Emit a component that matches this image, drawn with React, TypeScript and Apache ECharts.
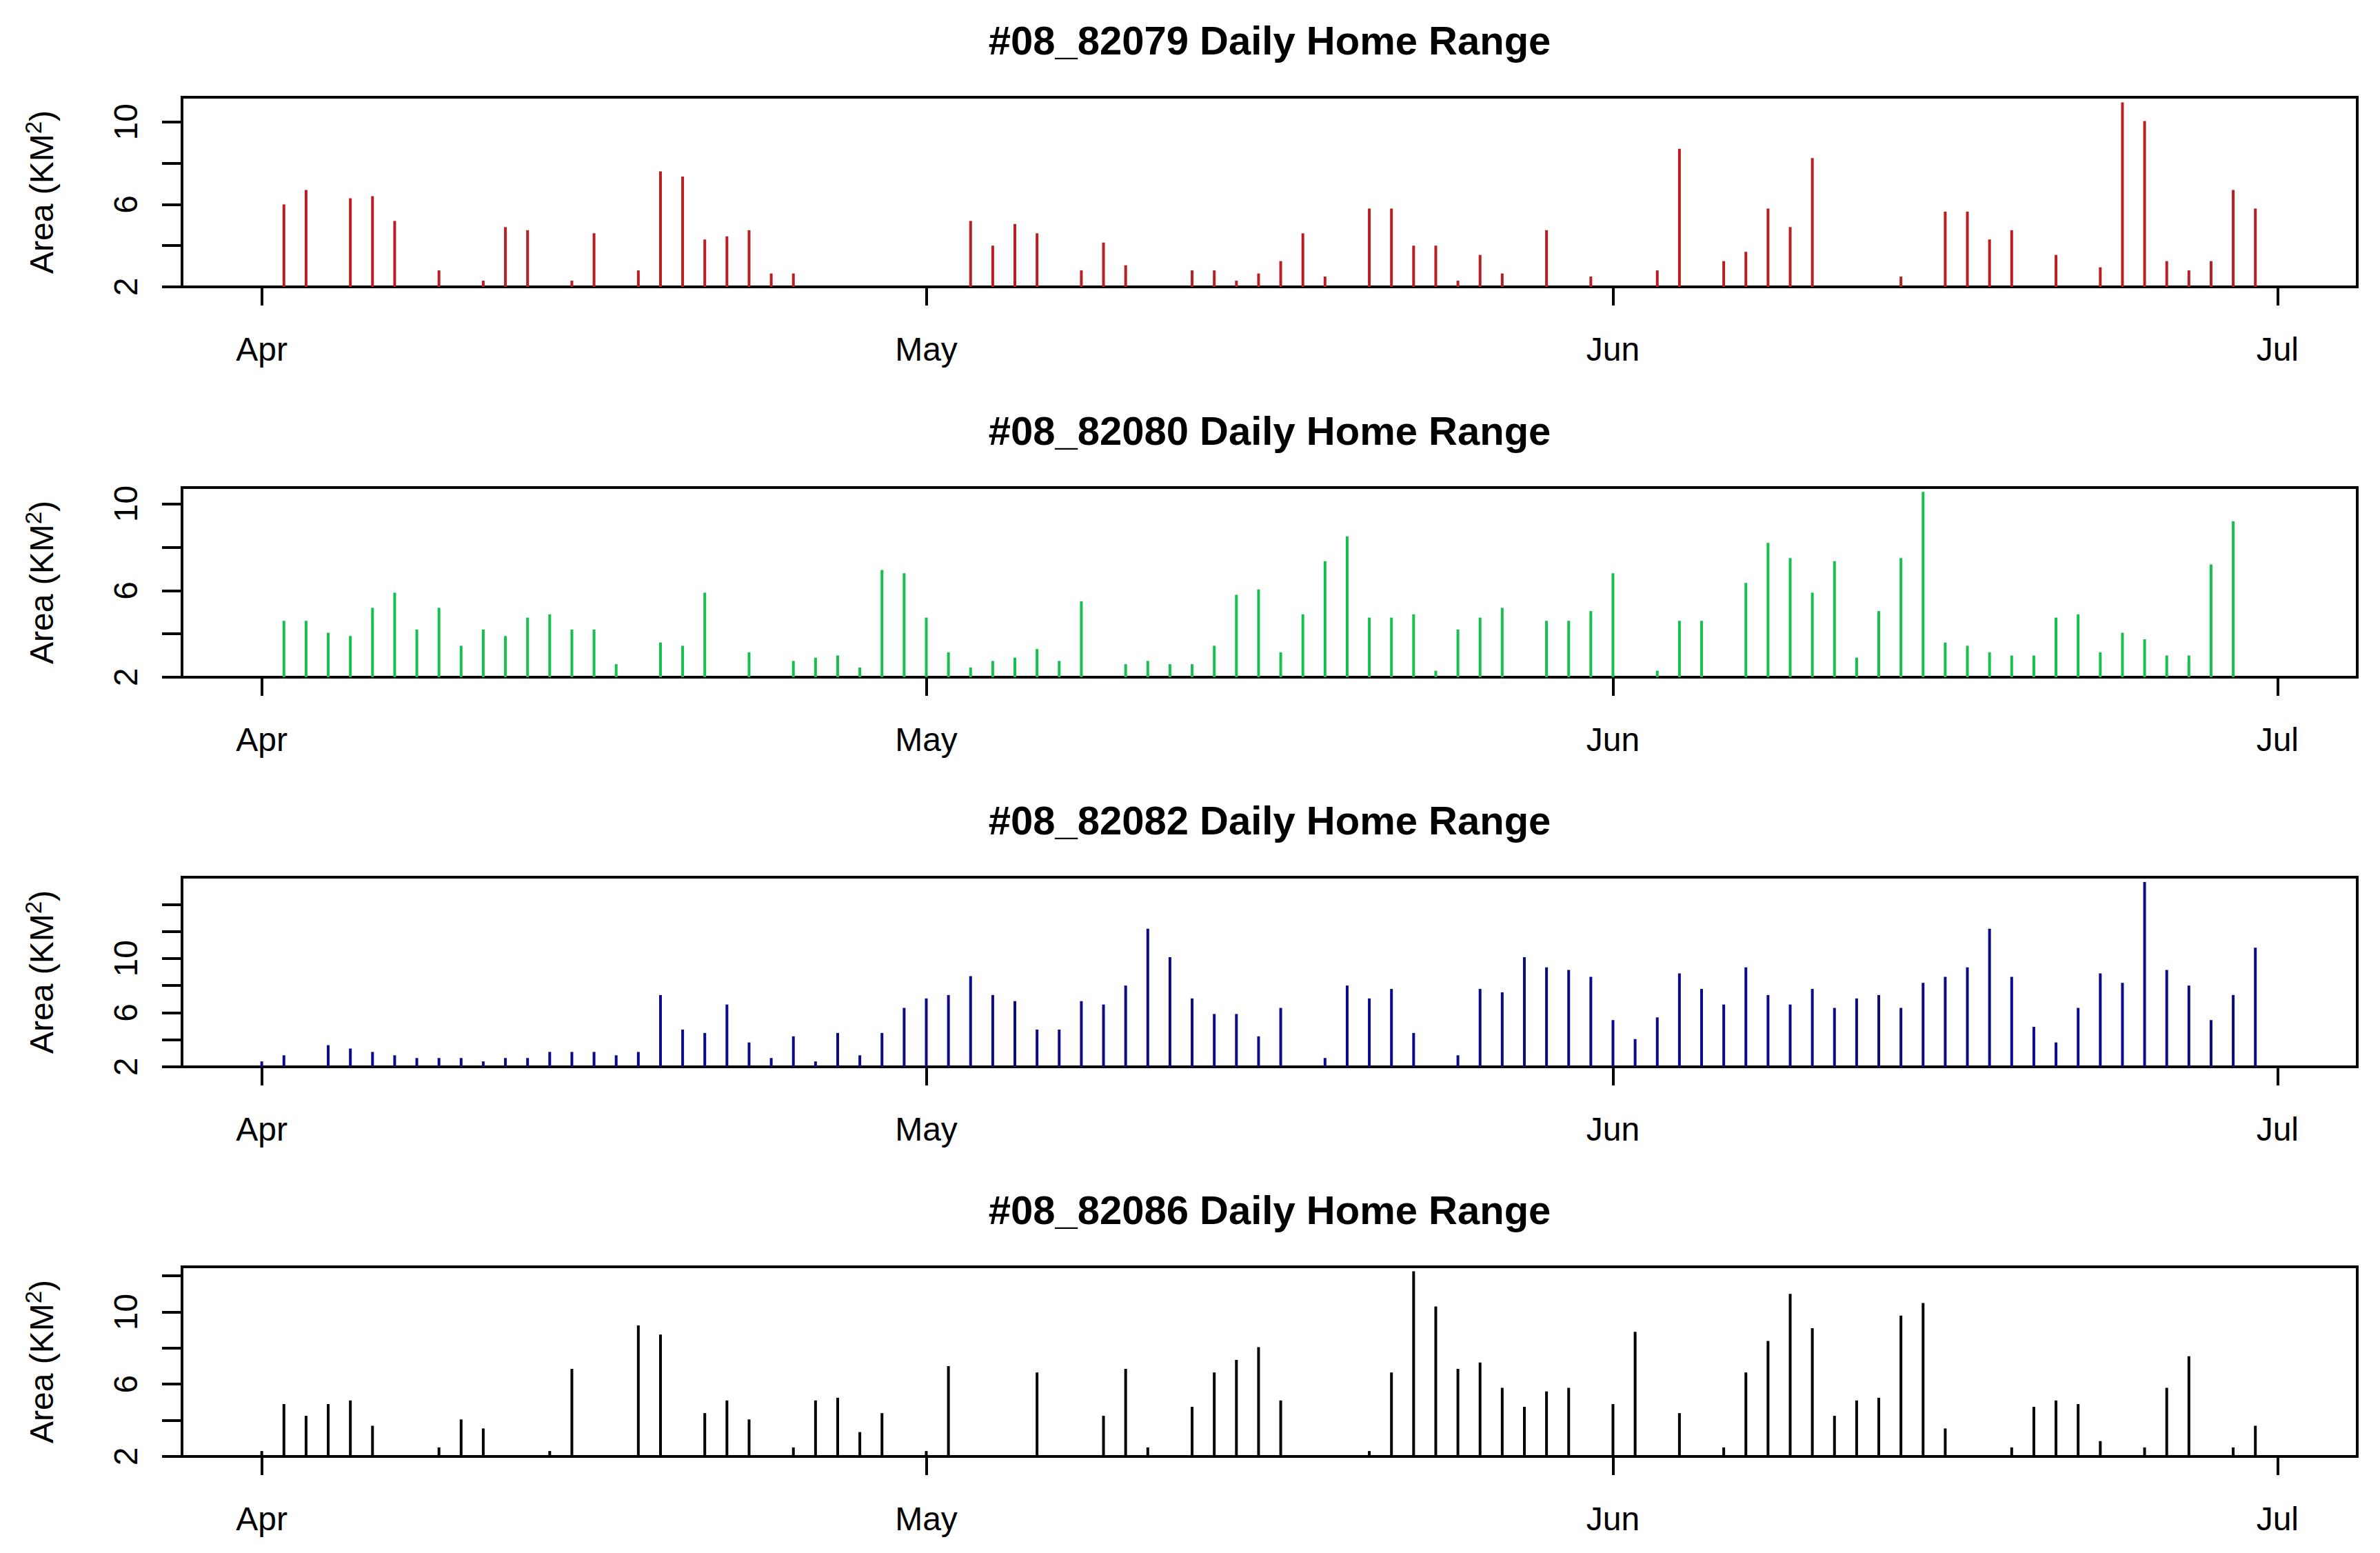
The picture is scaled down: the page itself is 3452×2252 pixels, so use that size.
import React, { useEffect, useRef } from "react";
import * as echarts from "echarts";

// ---------- data ----------
const titles = [
  "#08_82079 Daily Home Range",
  "#08_82080 Daily Home Range",
  "#08_82082 Daily Home Range",
  "#08_82086 Daily Home Range",
];

const dates1 = ["4-2","4-3","4-5","4-6","4-7","4-9","4-11","4-12","4-13","4-15","4-16","4-18","4-19","4-20","4-21","4-22","4-23","4-24","4-25","5-3","5-4","5-5","5-6","5-8","5-9","5-10","5-13","5-14","5-15","5-16","5-17","5-18","5-19","5-21","5-22","5-23","5-24","5-25","5-26","5-27","5-29","5-31","6-3","6-4","6-6","6-7","6-8","6-9","6-10","6-14","6-16","6-17","6-18","6-19","6-21","6-23","6-24","6-25","6-26","6-27","6-28","6-29","6-30"];
const values1 = [6.0,6.7,6.3,6.4,5.2,2.8,2.3,4.9,4.75,2.3,4.6,2.8,7.6,7.35,4.3,4.45,4.75,2.65,2.65,5.2,4.0,5.05,4.6,2.8,4.15,3.05,2.8,2.8,2.3,2.65,3.25,4.6,2.5,5.8,5.8,4.0,4.0,2.3,3.55,2.65,4.75,2.5,2.8,8.7,3.25,3.7,5.8,4.9,8.25,2.5,5.65,5.65,4.3,4.75,3.55,2.95,10.95,10.05,3.25,2.8,3.25,6.7,5.8];

const dates2 = ["4-2","4-3","4-4","4-5","4-6","4-7","4-8","4-9","4-10","4-11","4-12","4-13","4-14","4-15","4-16","4-17","4-19","4-20","4-21","4-23","4-25","4-26","4-27","4-28","4-29","4-30","5-1","5-2","5-3","5-4","5-5","5-6","5-7","5-8","5-10","5-11","5-12","5-13","5-14","5-15","5-16","5-17","5-18","5-19","5-20","5-21","5-22","5-23","5-24","5-25","5-26","5-27","5-29","5-30","5-31","6-1","6-3","6-4","6-5","6-7","6-8","6-9","6-10","6-11","6-12","6-13","6-14","6-15","6-16","6-17","6-18","6-19","6-20","6-21","6-22","6-23","6-24","6-25","6-26","6-27","6-28","6-29"];
const values2 = [4.6,4.6,4.05,3.9,5.2,5.9,4.2,5.2,3.45,4.2,3.9,4.75,4.9,4.2,4.2,2.6,3.6,3.45,5.9,3.15,2.75,2.9,3.0,2.45,6.95,6.8,4.75,3.15,2.45,2.75,2.9,3.3,2.75,5.5,2.6,2.75,2.6,2.6,3.45,5.8,6.05,3.15,4.9,7.35,8.5,4.75,4.75,4.9,2.3,4.2,4.75,5.2,4.6,4.6,5.05,6.8,2.3,4.6,4.6,6.35,8.2,7.5,5.9,7.35,2.9,5.05,7.5,10.55,3.6,3.45,3.15,3.0,3.0,4.75,4.9,3.15,4.05,3.75,3.0,3.0,7.2,9.2];

const dates3 = ["4-1","4-2","4-4","4-5","4-6","4-7","4-8","4-9","4-10","4-11","4-12","4-13","4-14","4-15","4-16","4-17","4-18","4-19","4-20","4-21","4-22","4-23","4-24","4-25","4-26","4-27","4-28","4-29","4-30","5-1","5-2","5-3","5-4","5-5","5-6","5-7","5-8","5-9","5-10","5-11","5-12","5-13","5-14","5-15","5-16","5-17","5-19","5-20","5-21","5-22","5-23","5-25","5-26","5-27","5-28","5-29","5-30","5-31","6-1","6-2","6-3","6-4","6-5","6-6","6-7","6-8","6-9","6-10","6-11","6-12","6-13","6-14","6-15","6-16","6-17","6-18","6-19","6-20","6-21","6-22","6-23","6-24","6-25","6-26","6-27","6-28","6-29","6-30"];
const values3 = [2.4,2.85,3.6,3.35,3.1,2.85,2.65,2.65,2.65,2.4,2.65,2.65,3.1,3.1,3.1,2.85,3.1,7.3,4.75,4.5,6.6,3.8,2.65,4.25,2.4,4.5,2.85,4.5,6.35,7.05,7.3,8.7,7.3,6.85,4.75,4.75,6.85,6.6,8.0,12.2,10.1,7.05,5.9,5.9,4.25,6.35,2.65,8.0,7.05,7.75,4.5,2.85,7.75,7.5,10.1,9.35,9.15,8.65,5.45,4.05,5.65,8.9,7.75,6.6,9.35,7.3,6.6,7.75,6.35,7.05,7.3,6.35,8.2,8.65,9.35,12.2,8.65,4.95,3.8,6.35,8.9,8.2,15.65,9.15,8.0,5.45,7.3,10.8];

const dates4 = ["4-1","4-2","4-3","4-4","4-5","4-6","4-9","4-10","4-11","4-14","4-15","4-18","4-19","4-21","4-22","4-23","4-25","4-26","4-27","4-28","4-29","5-1","5-2","5-6","5-9","5-10","5-11","5-13","5-14","5-15","5-16","5-17","5-21","5-22","5-23","5-24","5-25","5-26","5-27","5-28","5-29","5-30","6-1","6-2","6-4","6-6","6-7","6-8","6-9","6-10","6-11","6-12","6-13","6-14","6-15","6-16","6-19","6-20","6-21","6-22","6-23","6-25","6-26","6-27","6-29","6-30"];
const values4 = [2.3,4.9,4.25,4.9,5.1,3.7,2.5,4.05,3.55,2.3,6.85,9.25,8.75,4.4,5.1,4.05,2.5,5.1,5.25,3.35,4.4,2.3,7.0,6.65,4.25,6.85,2.5,4.75,6.65,7.35,8.05,5.1,2.3,6.65,12.25,10.3,6.85,7.2,5.8,4.75,5.6,5.8,4.9,8.9,4.4,2.5,6.65,8.4,11.0,9.1,4.25,5.1,5.25,9.8,10.5,3.55,2.5,4.75,5.1,4.9,2.85,2.5,5.8,7.55,2.5,3.7];

const monthLabels = ["Apr", "May", "Jun", "Jul"];
const monthDates = ["4-1", "5-1", "6-1", "7-1"];
const yLabelled = [2, 6, 10];
const yMin = 2;
const yMaxes = [11.2, 10.75, 16.0, 12.5];
const seriesColors = ["#B81E22", "#16C04C", "#0A0A8A", "#000000"];

const allDates = [dates1, dates2, dates3, dates4];
const allValues = [values1, values2, values3, values4];

// ---------- helpers ----------
const YEAR = 2008;
const BASE = Date.UTC(YEAR, 3, 1);
function dayOffset(md: string): number {
  const [m, d] = md.split("-").map(Number);
  return (Date.UTC(YEAR, m - 1, d) - BASE) / 86400000;
}

// ---------- layout ----------
const W = 3452;
const H = 2252;
const GRID_LEFT = 264;
const GRID_RIGHT_EDGE = 3419;
const PANEL_TOPS = [141, 707, 1272, 1837];
const PANEL_H = 275;
const FONT = "'Liberation Sans', Arial, Helvetica, sans-serif";
const X_PAD = 3.6;
const LW = 4;

export default function App() {
  const ref = useRef<HTMLDivElement>(null);

  useEffect(() => {
    if (!ref.current) return;
    const chart = echarts.init(ref.current, null, { renderer: "svg", width: W, height: H });

    const tickVals = monthDates.map(dayOffset);
    const lastTick = tickVals[tickVals.length - 1];

    const grids: any[] = [];
    const xAxes: any[] = [];
    const yAxes: any[] = [];
    const series: any[] = [];
    const titleOpts: any[] = [];
    const graphics: any[] = [];

    for (let i = 0; i < 4; i++) {
      const top = PANEL_TOPS[i];
      grids.push({
        left: GRID_LEFT,
        top,
        width: GRID_RIGHT_EDGE - GRID_LEFT,
        height: PANEL_H,
        show: true,
        borderColor: "#000",
        borderWidth: LW,
        backgroundColor: "transparent",
      });
      xAxes.push({
        type: "value",
        gridIndex: i,
        position: "bottom",
        min: tickVals[0] - X_PAD,
        max: lastTick + X_PAD,
        axisLine: { show: false, onZero: false },
        splitLine: { show: false },
        axisTick: {
          show: true,
          customValues: tickVals,
          length: 27,
          lineStyle: { color: "#000", width: LW },
        },
        axisLabel: {
          show: true,
          customValues: tickVals,
          formatter: (v: number) => {
            const idx = tickVals.findIndex((t) => Math.abs(t - v) < 1e-6);
            return idx >= 0 ? monthLabels[idx] : "";
          },
          fontSize: 48,
          fontFamily: FONT,
          color: "#000",
          margin: 66,
        },
      });
      yAxes.push({
        type: "value",
        gridIndex: i,
        position: "left",
        min: yMin,
        max: yMaxes[i],
        interval: 2,
        axisLine: { show: false, onZero: false },
        splitLine: { show: false },
        axisTick: {
          show: true,
          length: 29,
          lineStyle: { color: "#000", width: LW },
        },
        axisLabel: {
          show: true,
          rotate: 90,
          showMaxLabel: false,
          formatter: (v: number) => (yLabelled.indexOf(v) >= 0 ? String(v) : ""),
          fontSize: 48,
          fontFamily: FONT,
          color: "#000",
          margin: 58,
        },
      });
      const color = seriesColors[i];
      series.push({
        type: "custom",
        xAxisIndex: i,
        yAxisIndex: i,
        data: allDates[i].map((d, k) => [dayOffset(d), allValues[i][k]]),
        encode: { x: 0, y: 1 },
        renderItem: (params: any, api: any) => {
          const x = api.value(0);
          const v = api.value(1);
          const p0 = api.coord([x, yMin]);
          const p1 = api.coord([x, v]);
          return {
            type: "line",
            shape: { x1: p0[0], y1: p0[1], x2: p1[0], y2: p1[1] },
            style: { stroke: color, lineWidth: LW },
          };
        },
      });
      titleOpts.push({
        text: titles[i],
        left: (GRID_LEFT + GRID_RIGHT_EDGE) / 2,
        top: top - 112,
        textAlign: "center",
        padding: 0,
        textStyle: {
          fontSize: 58,
          fontWeight: "bold",
          fontFamily: FONT,
          color: "#000",
        },
      });
      graphics.push({
        type: "text",
        x: 60,
        y: top + PANEL_H / 2,
        rotation: Math.PI / 2,
        style: {
          text: "{n|Area (KM}{s|2}{n|)}",
          align: "center",
          verticalAlign: "middle",
          rich: {
            n: { fontSize: 48, fontFamily: FONT, fill: "#000", lineHeight: 56 },
            s: { fontSize: 33, fontFamily: FONT, fill: "#000", lineHeight: 56, verticalAlign: "top" },
          },
        },
      });
    }

    chart.setOption({
      animation: false,
      backgroundColor: "#fff",
      title: titleOpts,
      grid: grids,
      xAxis: xAxes,
      yAxis: yAxes,
      series,
      graphic: graphics,
    });

    return () => {
      chart.dispose();
    };
  }, []);

  return (
    <div
      ref={ref}
      style={{ position: "fixed", left: 0, top: 0, width: W, height: H, background: "#fff" }}
    />
  );
}
